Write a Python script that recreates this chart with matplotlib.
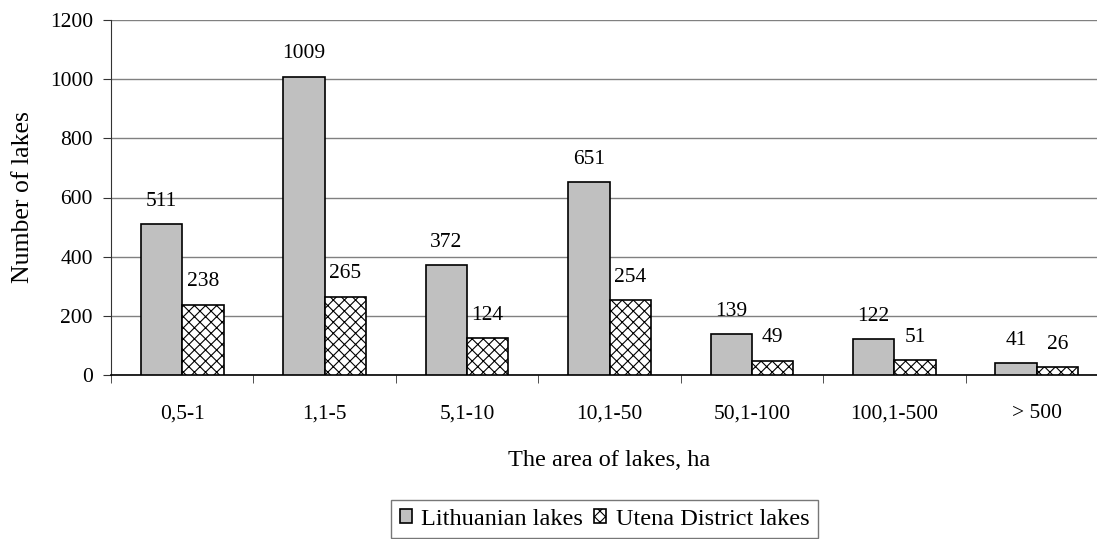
import matplotlib
matplotlib.use("Agg")
import matplotlib.pyplot as plt
import numpy as np

categories = ["0,5-1", "1,1-5", "5,1-10", "10,1-50", "50,1-100", "100,1-500", "> 500"]
lithuanian = [511, 1009, 372, 651, 139, 122, 41]
utena = [238, 265, 124, 254, 49, 51, 26]

plt.rcParams["font.family"] = ["Liberation Serif", "DejaVu Serif"]
plt.rcParams["font.size"] = 15.5
plt.rcParams["hatch.color"] = "#555555"
plt.rcParams["hatch.linewidth"] = 0.8

W, H = 1097, 539
fig = plt.figure(figsize=(W / 100, H / 100), dpi=100)
ax = fig.add_axes([111 / W, (H - 375) / H, 997 / W, 355 / H])

x = np.arange(len(categories))
bw = 0.29
b1 = ax.bar(x - bw / 2, lithuanian, bw, color="#c0c0c0", edgecolor="black", linewidth=1.2,
            label="Lithuanian lakes", zorder=3)
b2 = ax.bar(x + bw / 2, utena, bw, color="white", edgecolor="black", linewidth=1.2,
            hatch="xxx", label="Utena District lakes", zorder=3)

for bars, vals in ((b1, lithuanian), (b2, utena)):
    for rect, v in zip(bars, vals):
        ax.annotate(str(v), (rect.get_x() + rect.get_width() / 2, v), xytext=(0, 9.5),
                    textcoords="offset points", ha="center", va="bottom", fontsize=15.5)

ax.set_xlim(-0.5, len(categories) - 0.5)
ax.set_ylim(0, 1200)
ax.set_yticks(range(0, 1201, 200))
ax.set_xticks(x)
ax.set_xticklabels(categories)
ax.set_xticks(np.arange(-0.5, len(categories)), minor=True)
ax.tick_params(axis="x", which="major", length=0, pad=21, labelsize=15.5)
ax.tick_params(axis="x", which="minor", length=6, color="#333333", direction="out")
ax.tick_params(axis="y", length=6, color="#333333", direction="out", labelsize=15.5, pad=7)
ax.grid(axis="y", color="#808080", linewidth=1.0, zorder=0)
for s in ("top", "right"):
    ax.spines[s].set_visible(False)
ax.spines["left"].set_color("#333333")
ax.spines["bottom"].set_color("black")
ax.spines["bottom"].set_linewidth(1.2)

ax.set_ylabel("Number of lakes", fontsize=18.5, labelpad=11)
ax.set_xlabel("The area of lakes, ha", fontsize=17.5, labelpad=19)

leg = fig.legend(handles=[b1, b2], loc="upper left", bbox_to_anchor=(391 / W, (H - 500) / H),
                 ncol=2, frameon=True, fancybox=False, edgecolor="#555555",
                 handlelength=0.5, handleheight=0.5, handletextpad=0.4, columnspacing=0.45,
                 borderpad=0.35, borderaxespad=0, fontsize=17.5)
leg.get_frame().set_linewidth(1.0)

fig.savefig("out.png", dpi=100)
plt.close(fig)
